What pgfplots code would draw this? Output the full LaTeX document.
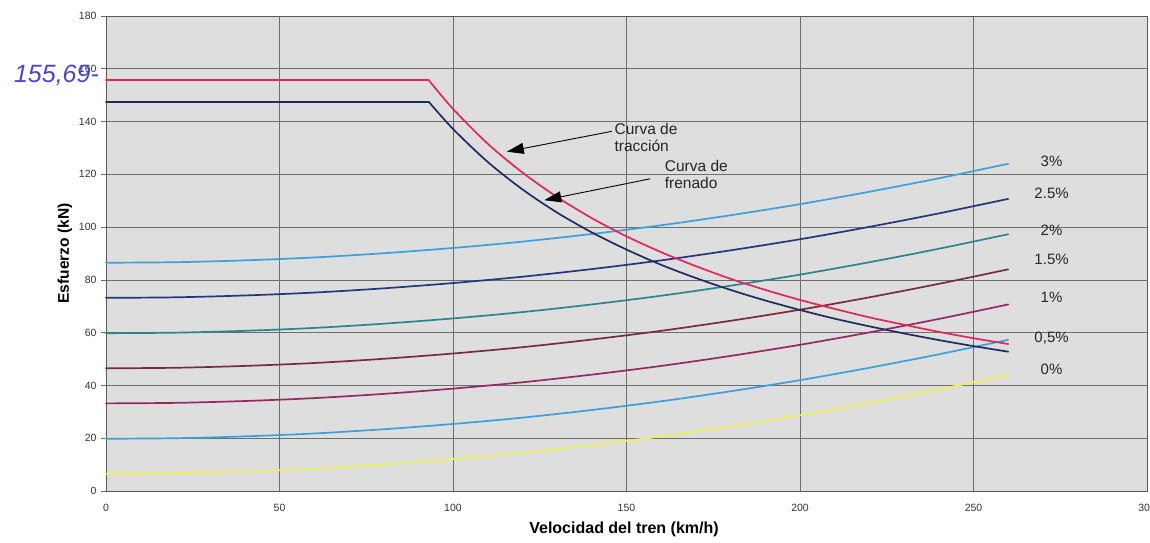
\documentclass[border=0pt]{standalone}
\usepackage{pgfplots}
\pgfplotsset{compat=1.18}
\usepackage{pgfplotstable}
\usepackage{fontspec}
\setmainfont{Liberation Sans}
\usetikzlibrary{arrows.meta}

\definecolor{bgc}{RGB}{222,222,222}
\definecolor{gridc}{RGB}{110,110,110}
\definecolor{tracc}{RGB}{228,36,92}
\definecolor{frenc}{RGB}{30,45,95}
\definecolor{cthree}{RGB}{60,160,220}
\definecolor{ctwofive}{RGB}{35,55,125}
\definecolor{ctwo}{RGB}{40,135,140}
\definecolor{conefive}{RGB}{120,45,60}
\definecolor{cone}{RGB}{150,40,100}
\definecolor{chalf}{RGB}{60,160,220}
\definecolor{czero}{RGB}{240,240,90}
\definecolor{pen}{RGB}{70,70,210}

\pgfplotstableread{
v F
0 155.69
93 155.69
}\traccionflat

\pgfplotstableread{
v F
93 155.69
100 144.8
110 131.6
120 120.7
130 111.4
140 103.4
150 96.5
160 90.5
170 85.2
180 80.4
190 76.2
200 72.4
210 69.0
220 65.8
230 63.0
240 60.3
250 57.9
260 55.7
}\traccion

\pgfplotstableread{
v F
0 147.5
93 147.5
}\frenadoflat

\pgfplotstableread{
v F
93 147.5
100 137.2
110 124.7
120 114.3
130 105.5
140 98.0
150 91.5
160 85.7
170 80.7
180 76.2
190 72.2
200 68.6
210 65.3
220 62.4
230 59.7
240 57.2
250 54.9
260 52.8
}\frenado

\pgfplotstableread{
v r0 r05 r1 r15 r2 r25 r3
0 6.5 19.8 33.2 46.5 59.8 73.2 86.5
20 6.7 20.0 33.4 46.7 60.0 73.4 86.7
40 7.4 20.7 34.1 47.4 60.7 74.1 87.4
60 8.5 21.8 35.2 48.5 61.8 75.2 88.5
80 10.1 23.4 36.8 50.1 63.4 76.8 90.1
100 12.1 25.4 38.8 52.1 65.4 78.8 92.1
120 14.5 27.8 41.2 54.5 67.8 81.2 94.5
140 17.4 30.7 44.1 57.4 70.7 84.1 97.4
160 20.7 34.0 47.4 60.7 74.0 87.4 100.7
180 24.5 37.8 51.2 64.5 77.8 91.2 104.5
200 28.7 42.0 55.4 68.7 82.0 95.4 108.7
220 33.4 46.7 60.1 73.4 86.7 100.1 113.4
240 38.5 51.8 65.2 78.5 91.8 105.2 118.5
260 44.0 57.3 70.7 84.0 97.3 110.7 124.0
}\resist

\begin{document}
\begin{tikzpicture}
\begin{axis}[
  name=ax,
  scale only axis,
  width=1041pt, height=475pt,
  xmin=0, xmax=300, ymin=0, ymax=180,
  xtick={0,50,...,300}, ytick={0,20,...,180},
  grid=major,
  major grid style={draw=gridc, line width=0.6pt},
  axis line style={draw=gridc!80!black, line width=0.8pt},
  axis background/.style={fill=bgc},
  tick style={draw=gridc, line width=0.6pt},
  xtick pos=bottom, ytick pos=left,
  tick align=outside,
  major tick length=5pt,
  x tick style={draw=none},
  /pgf/number format/assume math mode=true,
  ticklabel style={font=\fontsize{10.5}{11}\selectfont, text=black!80},
  xticklabel style={yshift=-5pt},
  yticklabel style={xshift=-1pt},
  xlabel={\bfseries Velocidad del tren (km/h)},
  ylabel={\bfseries Esfuerzo (kN)},
  xlabel style={font=\fontsize{16}{18}\selectfont, at={(axis description cs:0.4976,0)}, anchor=center, yshift=-38pt},
  ylabel style={font=\fontsize{15.5}{17}\selectfont, at={(axis description cs:-0.0394,0.5)}, anchor=center},
  clip=false,
  every axis plot/.append style={line width=1.7pt, line cap=round, line join=round},
]
\addplot[czero, smooth] table[x=v, y=r0] {\resist};
\addplot[chalf, smooth] table[x=v, y=r05] {\resist};
\addplot[cone, smooth] table[x=v, y=r1] {\resist};
\addplot[conefive, smooth] table[x=v, y=r15] {\resist};
\addplot[ctwo, smooth] table[x=v, y=r2] {\resist};
\addplot[ctwofive, smooth] table[x=v, y=r25] {\resist};
\addplot[cthree, smooth] table[x=v, y=r3] {\resist};
\addplot[frenc] table[x=v, y=F] {\frenadoflat};
\addplot[frenc, smooth] table[x=v, y=F] {\frenado};
\addplot[tracc] table[x=v, y=F] {\traccionflat};
\addplot[tracc, smooth] table[x=v, y=F] {\traccion};

\begin{scope}[font=\fontsize{15}{17}\selectfont, text=black!85]
\node at (axis cs:272.5,125) {3\%};
\node at (axis cs:272.5,112.9) {2.5\%};
\node at (axis cs:272.5,98.9) {2\%};
\node at (axis cs:272.5,87.9) {1.5\%};
\node at (axis cs:272.5,73.5) {1\%};
\node at (axis cs:272.5,58) {0,5\%};
\node at (axis cs:272.5,46.2) {0\%};
\end{scope}
\begin{scope}[font=\fontsize{15.5}{18}\selectfont, text=black!85]
\node[anchor=west, align=left, inner sep=0pt] at (axis cs:146.5,134) {Curva de\\[-1pt]tracción};
\node[anchor=west, align=left, inner sep=0pt] at (axis cs:161,120) {Curva de\\[-1pt]frenado};
\end{scope}
\draw[black, line width=0.9pt, -{Triangle[width=11pt,length=17pt]}] (axis cs:145.8,136.3) -- (axis cs:115.5,128.6);
\draw[black, line width=0.9pt, -{Triangle[width=11pt,length=17pt]}] (axis cs:156.8,118.3) -- (axis cs:126.3,110.2);

\node[anchor=east, text=pen, font=\fontsize{25}{26}\selectfont\itshape, inner sep=0pt] at (axis cs:-2,157.5) {155,69-};
\end{axis}
\pgfresetboundingbox
\path (ax.south west) ++(-106pt,-51pt) rectangle ++(1150pt,542pt);
\end{tikzpicture}
\end{document}
